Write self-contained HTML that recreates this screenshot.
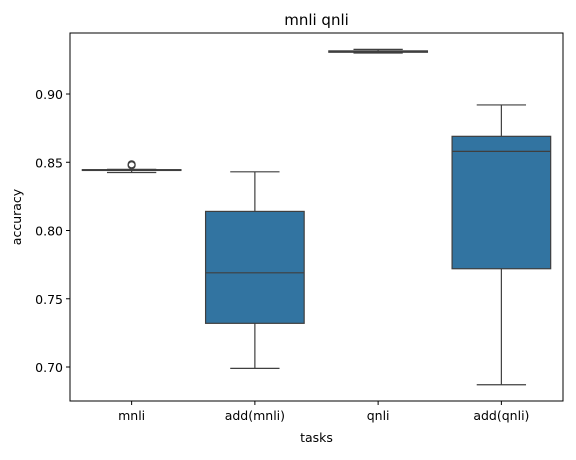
<!DOCTYPE html>
<html><head><meta charset="utf-8"><style>body{margin:0;background:#fff}svg{font-family:"DejaVu Sans","Liberation Sans",sans-serif}</style></head>
<body>
<svg width="576" height="455" xmlns="http://www.w3.org/2000/svg">
<g id="plot"></g>
<script>
const categories=["mnli","add(mnli)","qnli","add(qnli)"];
const whiskerLow=[0.8425,0.699,0.9300,0.687];
const q1=[0.8440,0.732,0.9306,0.772];
const median=[0.8443,0.769,0.9311,0.858];
const q3=[0.8446,0.814,0.9316,0.869];
const whiskerHigh=[0.8448,0.843,0.9327,0.892];
const outliers=[[0.8478,0.8485],[],[],[]];
const yTicks=[0.70,0.75,0.80,0.85,0.90];
const yTickLabels=["0.70","0.75","0.80","0.85","0.90"];
const L=70,R=563,T=33,B=401,ymin=0.6751,ymax=0.9447;
const y=v=>B-(v-ymin)/(ymax-ymin)*(B-T);
const step=(R-L)/categories.length;
const x=i=>L+step*(i+0.5);
const NS="http://www.w3.org/2000/svg",g=document.getElementById('plot');
function mk(t,a,txt){const e=document.createElementNS(NS,t);for(const k in a)e.setAttribute(k,a[k]);if(txt!==undefined)e.textContent=txt;g.appendChild(e);return e;}
const bw=step*0.8,c="#3f3f3f";
categories.forEach((cat,i)=>{
  const cx=x(i);
  let e=mk('line',{x1:cx,x2:cx,y1:y(whiskerLow[i]),y2:y(q1[i]),stroke:c,'stroke-width':1.2});
  
  e=mk('line',{x1:cx,x2:cx,y1:y(q3[i]),y2:y(whiskerHigh[i]),stroke:c,'stroke-width':1.2});
  
  const top=y(q3[i]),bot=y(q1[i]);
  e=mk('rect',{x:cx-bw/2,y:top,width:bw,height:Math.max(bot-top,0.5),fill:"#3274a1",stroke:c,'stroke-width':1.2});
  
  [whiskerLow[i],whiskerHigh[i]].forEach(v=>{
    const w=mk('line',{x1:cx-bw/4,x2:cx+bw/4,y1:y(v),y2:y(v),stroke:c,'stroke-width':1.2});
    
  });
  e=mk('line',{x1:cx-bw/2,x2:cx+bw/2,y1:y(median[i]),y2:y(median[i]),stroke:c,'stroke-width':1.2});
  
  outliers[i].forEach(v=>{
    const o=mk('circle',{cx:cx,cy:y(v),r:3.5,fill:"none",stroke:c,'stroke-width':1.2});
    
  });
  e=mk('line',{x1:cx,x2:cx,y1:B,y2:B+4,stroke:"#000"});
  
  e=mk('text',{x:cx,y:B+19,'text-anchor':'middle','font-size':12.5},cat);
  
});
yTicks.forEach((v,i)=>{
  let e=mk('line',{x1:L-4,x2:L,y1:y(v),y2:y(v),stroke:"#000"});
  
  e=mk('text',{x:L-7,y:y(v)+5,'text-anchor':'end','font-size':12.5},yTickLabels[i]);
  
});
let f=mk('rect',{x:L,y:T,width:R-L,height:B-T,fill:"none",stroke:"#000",'stroke-width':1});

f=mk('text',{x:(L+R)/2,y:25,'text-anchor':'middle','font-size':15},"mnli qnli");

f=mk('text',{x:(L+R)/2,y:442,'text-anchor':'middle','font-size':12.5},"tasks");

f=mk('text',{x:21,y:(T+B)/2,'text-anchor':'middle','font-size':12.5,transform:`rotate(-90 21 ${(T+B)/2})`},"accuracy");

</script>
</svg>
</body></html>
